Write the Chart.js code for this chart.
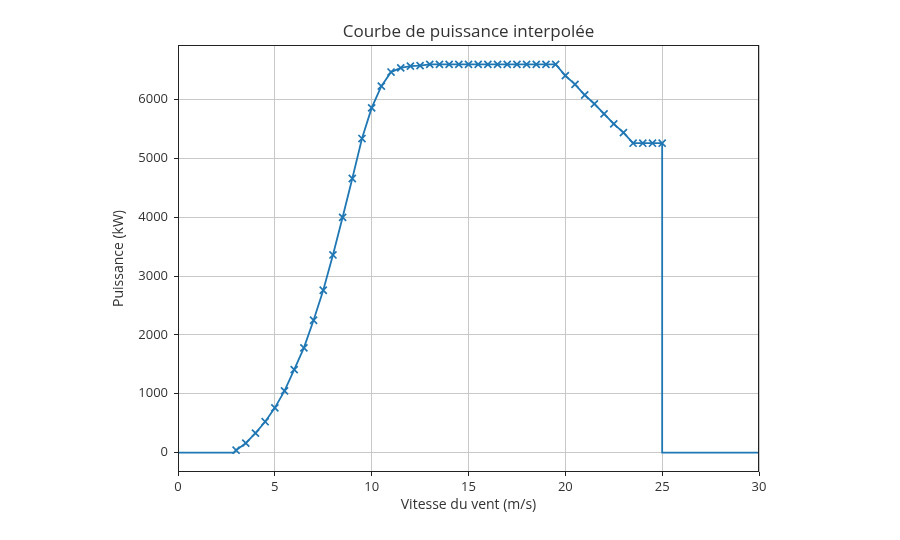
<!DOCTYPE html>
<html>
<head>
<meta charset="utf-8">
<script src="https://cdn.jsdelivr.net/npm/chart.js@4.4.0/dist/chart.umd.min.js"></script>
<style>
  html, body { margin: 0; padding: 0; background: #fff; }
  #wrap { width: 900px; height: 540px; }
</style>
</head>
<body>
<div id="wrap"><canvas id="myChart" width="900" height="540"></canvas></div>
<script>
// Courbe de puissance (points de mesure, tous les 0.5 m/s)
const windSpeed = [3, 3.5, 4, 4.5, 5, 5.5, 6, 6.5, 7, 7.5, 8, 8.5, 9, 9.5, 10, 10.5, 11, 11.5, 12, 12.5,
                   13, 13.5, 14, 14.5, 15, 15.5, 16, 16.5, 17, 17.5, 18, 18.5, 19, 19.5,
                   20, 20.5, 21, 21.5, 22, 22.5, 23, 23.5, 24, 24.5, 25];
const power = [40, 160, 330, 525, 760, 1050, 1410, 1780, 2250, 2760, 3360, 4000, 4660, 5340, 5860, 6230, 6470, 6540, 6570, 6580,
               6600, 6600, 6600, 6600, 6600, 6600, 6600, 6600, 6600, 6600, 6600, 6600, 6600, 6600,
               6410, 6260, 6080, 5930, 5760, 5590, 5440, 5260, 5260, 5260, 5260];

// segments de la courbe interpolee hors points de mesure
const leadSpeed = [0, 2.9];
const leadPower = [0, 0];
const tailSpeed = [25, 30];
const tailPower = [0, 0];

const xTicks = [0, 5, 10, 15, 20, 25, 30];
const yTicks = [0, 1000, 2000, 3000, 4000, 5000, 6000];

const blue = '#1f77b4';
const textColor = '#333';
const fontFamily = '"Open Sans", sans-serif';

function toPoints(xs, ys) {
    return xs.map((x, i) => ({ x: x, y: ys[i] }));
}

const linePoints = toPoints(leadSpeed, leadPower)
    .concat(toPoints(windSpeed, power))
    .concat(toPoints(tailSpeed, tailPower));

// cadre complet autour de la zone de trace
const frame = {
    id: 'frame',
    afterDraw(chart) {
        const a = chart.chartArea;
        const ctx = chart.ctx;
        ctx.save();
        ctx.strokeStyle = '#222';
        ctx.lineWidth = 1;
        ctx.strokeRect(Math.round(a.left) + 0.5, Math.round(a.top) + 0.5,
                       Math.round(a.right - a.left) - 1, Math.round(a.bottom - a.top) - 1);
        ctx.restore();
    }
};

const ctx = document.getElementById('myChart').getContext('2d');

const chartInstance = new Chart(ctx, {
    type: 'scatter',
    data: {
        datasets: [
            {
                data: linePoints,
                showLine: true,
                borderColor: blue,
                borderWidth: 1.8,
                pointRadius: 0,
                tension: 0
            },
            {
                data: toPoints(windSpeed, power),
                showLine: false,
                pointStyle: 'crossRot',
                pointRadius: 5,
                pointBorderWidth: 1.7,
                borderColor: blue,
                backgroundColor: blue
            }
        ]
    },
    options: {
        responsive: false,
        animation: false,
        layout: { padding: { left: 106, right: 141, top: 0, bottom: 0 } },
        plugins: {
            legend: { display: false },
            tooltip: { enabled: false },
            title: {
                display: true,
                fullSize: false,
                text: 'Courbe de puissance interpolée',
                color: textColor,
                font: { family: fontFamily, size: 17, weight: 'normal', lineHeight: 1.2 },
                padding: { top: 22, bottom: 2.6 }
            }
        },
        scales: {
            x: {
                type: 'linear',
                min: 0,
                max: 30,
                afterBuildTicks: (scale) => { scale.ticks = xTicks.map(v => ({ value: v })); },
                afterFit: (scale) => { scale.height = 68; },
                grid: { color: '#c8c8c8', lineWidth: 1, tickColor: '#222', tickLength: 4 },
                border: { display: false },
                ticks: {
                    color: textColor,
                    font: { family: fontFamily, size: 13 },
                    padding: 3,
                    maxRotation: 0,
                    callback: (v) => String(v)
                },
                title: {
                    display: true,
                    text: 'Vitesse du vent (m/s)',
                    color: textColor,
                    font: { family: fontFamily, size: 14 },
                    padding: { top: 0, bottom: 27 }
                }
            },
            y: {
                type: 'linear',
                min: -330,
                max: 6930,
                afterBuildTicks: (scale) => { scale.ticks = yTicks.map(v => ({ value: v })); },
                afterFit: (scale) => { scale.width = 72; },
                grid: { color: '#c8c8c8', lineWidth: 1, tickColor: '#222', tickLength: 4 },
                border: { display: false },
                ticks: {
                    color: textColor,
                    font: { family: fontFamily, size: 13 },
                    padding: 6,
                    callback: (v) => String(v)
                },
                title: {
                    display: true,
                    text: 'Puissance (kW)',
                    color: textColor,
                    font: { family: fontFamily, size: 14 },
                    padding: { top: 5, bottom: 0 }
                }
            }
        }
    },
    plugins: [frame]
});
</script>
</body>
</html>
